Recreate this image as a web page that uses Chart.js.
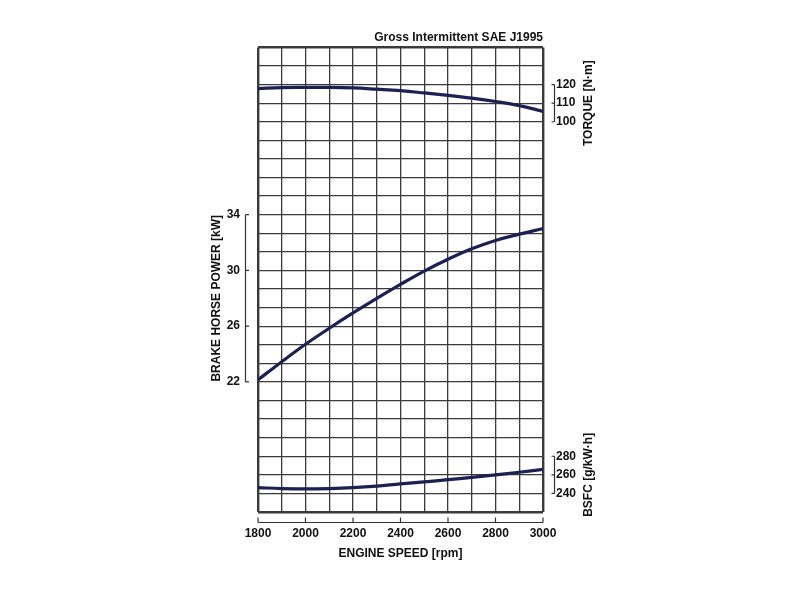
<!DOCTYPE html>
<html>
<head>
<meta charset="utf-8">
<script src="https://cdn.jsdelivr.net/npm/chart.js@4/dist/chart.umd.min.js"></script>
<style>
  html, body { margin: 0; padding: 0; background: #fff; }
  #wrap { width: 800px; height: 600px; position: relative; }
</style>
</head>
<body>
<div id="wrap"><canvas id="chart"></canvas></div>
<script>
// engine speed (rpm) sample points
const speeds = [1800, 1900, 2000, 2100, 2200, 2300, 2400, 2500, 2600, 2700, 2800, 2900, 3000];
const torque = [117.8, 118.4, 118.5, 118.5, 118.2, 117.5, 116.7, 115.5, 114.2, 112.7, 110.9, 108.7, 105.6];
const power = [22.15, 23.45, 24.7, 25.85, 26.95, 28.0, 29.0, 29.95, 30.8, 31.55, 32.15, 32.6, 33.0];
const bsfc = [246.2, 245.2, 244.8, 245.2, 246.2, 247.9, 250.3, 252.4, 254.8, 257.2, 260.0, 262.8, 265.9];

// tick labels
const speedTicks = [1800, 2000, 2200, 2400, 2600, 2800, 3000];
const powerTicks = [22, 26, 30, 34];
const torqueTicks = [100, 110, 120];
const bsfcTicks = [240, 260, 280];

// the grid has 25 rows; every curve scale is fitted onto those rows
const ROWS = 25;
const powerMin = 22 - 7 * 4 / 3, powerMax = powerMin + ROWS * 4 / 3;
const torqueMin = 100 - 21 * 10, torqueMax = torqueMin + ROWS * 10;
const bsfcMin = 240 - 20, bsfcMax = bsfcMin + ROWS * 20;

const INK = '#111';
const LINE = '#1c2152';
const FONT = { family: '"Liberation Sans", Arial, sans-serif', size: 12, weight: 'bold' };

function pts(vals) {
  return speeds.map((s, i) => ({ x: s, y: vals[i] }));
}

function curve(label, vals, axis) {
  return {
    label: label,
    data: pts(vals),
    yAxisID: axis,
    borderColor: LINE,
    borderWidth: 3.2,
    pointRadius: 0,
    tension: 0.4,
    fill: false
  };
}

// brackets, side labels and rotated titles
const sideAxes = {
  id: 'sideAxes',
  afterDraw(chart) {
    const ctx = chart.ctx;
    const area = chart.chartArea;
    const sx = chart.scales.x, sp = chart.scales.yP, st = chart.scales.yT, sb = chart.scales.yB;
    ctx.save();
    ctx.strokeStyle = '#333';
    ctx.lineWidth = 1.2;
    ctx.fillStyle = INK;
    ctx.font = 'bold 12px "Liberation Sans", Arial, sans-serif';

    // left bracket for power
    const lx = area.left - 12.5;
    ctx.beginPath();
    ctx.moveTo(lx, sp.getPixelForValue(powerTicks[0]));
    ctx.lineTo(lx, sp.getPixelForValue(powerTicks[powerTicks.length - 1]));
    powerTicks.forEach(v => {
      const y = sp.getPixelForValue(v);
      ctx.moveTo(lx, y); ctx.lineTo(lx + 3.5, y);
    });
    ctx.stroke();

    // right brackets + labels
    const rx = area.right + 11.5;
    [[st, torqueTicks], [sb, bsfcTicks]].forEach(([sc, ticks]) => {
      ctx.beginPath();
      ctx.moveTo(rx, sc.getPixelForValue(ticks[0]));
      ctx.lineTo(rx, sc.getPixelForValue(ticks[ticks.length - 1]));
      ticks.forEach(v => {
        const y = sc.getPixelForValue(v);
        ctx.moveTo(rx, y); ctx.lineTo(rx - 3, y);
      });
      ctx.stroke();
      ctx.textAlign = 'left';
      ctx.textBaseline = 'middle';
      ticks.forEach(v => ctx.fillText(String(v), area.right + 13, sc.getPixelForValue(v)));
    });

    // bottom axis line with ticks
    const by = area.bottom + 10.5;
    ctx.beginPath();
    ctx.moveTo(sx.getPixelForValue(speedTicks[0]), by);
    ctx.lineTo(sx.getPixelForValue(speedTicks[speedTicks.length - 1]), by);
    speedTicks.forEach(v => {
      const x = sx.getPixelForValue(v);
      ctx.moveTo(x, by); ctx.lineTo(x, by - 5);
    });
    ctx.stroke();

    // rotated titles
    function vtext(txt, x, y) {
      ctx.save();
      ctx.translate(x, y);
      ctx.rotate(-Math.PI / 2);
      ctx.textAlign = 'center';
      ctx.textBaseline = 'middle';
      ctx.fillText(txt, 0, 0);
      ctx.restore();
    }
    vtext('BRAKE HORSE POWER [kW]', area.left - 41, sp.getPixelForValue(28));
    vtext('TORQUE [N\u00b7m]', area.right + 46, st.getPixelForValue(110));
    vtext('BSFC [g/kW\u00b7h]', area.right + 46, sb.getPixelForValue(260));
    ctx.restore();
  }
};

const edge = (c, first, last) => (c.tick && (c.tick.value === first || c.tick.value === last)) ? 2.4 : 1.3;

const ctx = document.getElementById('chart').getContext('2d');
Chart.defaults.font.family = FONT.family;
Chart.defaults.color = INK;

new Chart(ctx, {
  type: 'line',
  data: {
    datasets: [
      curve('Torque', torque, 'yT'),
      curve('Power', power, 'yP'),
      curve('BSFC', bsfc, 'yB')
    ]
  },
  options: {
    animation: false,
    responsive: true,
    maintainAspectRatio: false,
    layout: { padding: { left: 0, right: 257, top: 0, bottom: 0 } },
    plugins: {
      legend: { display: false },
      tooltip: { enabled: false },
      title: {
        display: true,
        text: 'Gross Intermittent SAE J1995',
        align: 'end',
        fullSize: false,
        color: INK,
        font: FONT,
        padding: { top: 30, bottom: 3 }
      }
    },
    scales: {
      x: {
        type: 'linear',
        min: 1800,
        max: 3000,
        afterFit: s => { s.height = 88; },
        grid: {
          color: '#3a3a3a',
          lineWidth: c => edge(c, 1800, 3000),
          drawTicks: false
        },
        border: { display: false },
        ticks: {
          stepSize: 100,
          autoSkip: false,
          maxRotation: 0,
          padding: 14,
          color: INK,
          font: FONT,
          callback: v => speedTicks.includes(v) ? String(v) : ''
        },
        title: {
          display: true,
          text: 'ENGINE SPEED [rpm]',
          color: INK,
          font: FONT,
          padding: { top: 0, bottom: 39 }
        }
      },
      yg: {
        type: 'linear',
        position: 'left',
        min: 0,
        max: ROWS,
        afterFit: s => { s.width = 0; },
        grid: {
          color: '#3a3a3a',
          lineWidth: c => edge(c, 0, ROWS),
          drawTicks: false
        },
        border: { display: false },
        ticks: { display: false, stepSize: 1 }
      },
      yP: {
        type: 'linear',
        position: 'left',
        min: powerMin,
        max: powerMax,
        afterFit: s => { s.width = 258; },
        afterBuildTicks: s => { s.ticks = powerTicks.map(v => ({ value: v })); },
        grid: { display: false, drawTicks: false },
        border: { display: false },
        ticks: { padding: 18, color: INK, font: FONT, callback: v => String(v) }
      },
      yT: { type: 'linear', position: 'right', display: false, min: torqueMin, max: torqueMax },
      yB: { type: 'linear', position: 'right', display: false, min: bsfcMin, max: bsfcMax }
    }
  },
  plugins: [sideAxes]
});
</script>
</body>
</html>
